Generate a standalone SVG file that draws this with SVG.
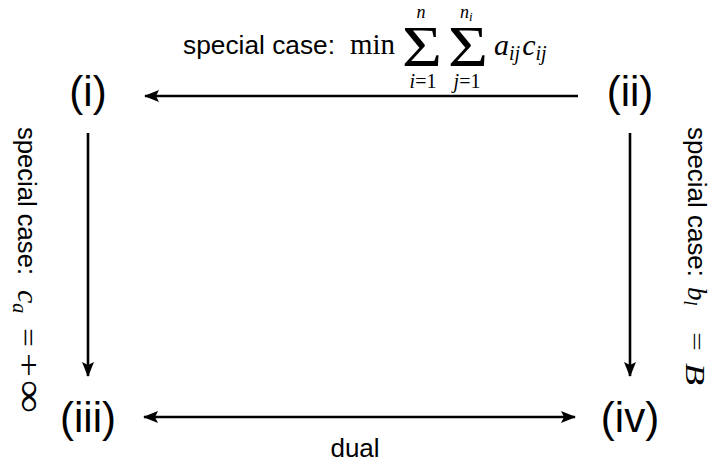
<svg xmlns="http://www.w3.org/2000/svg" width="712" height="465" viewBox="0 0 712 465">
<style>
.node{font-family:"Liberation Sans",Arial,sans-serif;font-size:42px;fill:#000;text-anchor:middle}
.lbl{font-family:"Liberation Sans",Arial,sans-serif;font-size:26px;fill:#000}
.m{font-family:"Liberation Serif","Times New Roman",serif;fill:#000}
.mi{font-family:"Liberation Serif","Times New Roman",serif;font-style:italic;fill:#000}
.conn{stroke:#000;stroke-width:2.6;fill:none}
</style>
<defs>
<marker id="ah" viewBox="0 0 15 12" refX="14" refY="6" markerWidth="15" markerHeight="12" markerUnits="userSpaceOnUse" orient="auto-start-reverse">
<path d="M0,0 L15,6 L0,12 L3,6 z" fill="#000"/>
</marker>
</defs>
<rect width="712" height="465" fill="#fff"/>
<g id="connectors">
<path class="conn" d="M578,96 L145,96" marker-end="url(#ah)"/>
<path class="conn" d="M88,133 L88,376" marker-end="url(#ah)"/>
<path class="conn" d="M630,133 L630,376" marker-end="url(#ah)"/>
<path class="conn" d="M144,417 L575,417" marker-start="url(#ah)" marker-end="url(#ah)"/>
</g>
<g id="node-i"><text class="node" x="88" y="106">(i)</text></g>
<g id="node-ii"><text class="node" x="630" y="106">(ii)</text></g>
<g id="node-iii"><text class="node" x="88" y="432">(iii)</text></g>
<g id="node-iv"><text class="node" x="630" y="432">(iv)</text></g>
<g id="label-top">
<text class="lbl" x="183" y="54" textLength="152" lengthAdjust="spacingAndGlyphs">special case:</text>
<text class="m" x="350" y="54" font-size="29" textLength="45" lengthAdjust="spacingAndGlyphs">min</text>
<text class="m" x="402" y="66" font-size="58" textLength="40" lengthAdjust="spacingAndGlyphs">Σ</text>
<text class="m" x="448" y="66" font-size="58" textLength="40" lengthAdjust="spacingAndGlyphs">Σ</text>
<text class="mi" x="421" y="18" font-size="18" text-anchor="middle">n</text>
<text class="mi" x="460" y="18" font-size="18">n<tspan font-size="13" dy="3">i</tspan></text>
<text class="m" x="423" y="88" font-size="20" text-anchor="middle"><tspan class="mi">i</tspan>=1</text>
<text class="m" x="467" y="88" font-size="20" text-anchor="middle"><tspan class="mi">j</tspan>=1</text>
<text class="mi" x="494" y="55" font-size="30">a<tspan font-size="20" dy="5">ij</tspan><tspan dy="-5" dx="2">c</tspan><tspan font-size="20" dy="5">ij</tspan></text>
</g>
<g id="label-left" transform="translate(18,127) rotate(90)">
<text class="lbl" x="0" y="0" textLength="148" lengthAdjust="spacingAndGlyphs">special case:</text>
<text class="mi" x="163" y="0" font-size="30">c<tspan font-size="20" dy="5">a</tspan></text>
<text class="m" x="201" y="0" font-size="30" textLength="19" lengthAdjust="spacingAndGlyphs">=</text>
<text class="m" x="226" y="0" font-size="31" textLength="24" lengthAdjust="spacingAndGlyphs">+</text>
<text class="m" x="253" y="0" font-size="38" textLength="33" lengthAdjust="spacingAndGlyphs">∞</text>
</g>
<g id="label-right" transform="translate(688,127) rotate(90)">
<text class="lbl" x="0" y="0" textLength="150" lengthAdjust="spacingAndGlyphs">special case:</text>
<text class="mi" x="160" y="0" font-size="27">b<tspan font-size="18" dy="4">l</tspan></text>
<text class="m" x="205" y="-1" font-size="24" textLength="19" lengthAdjust="spacingAndGlyphs">=</text>
<text class="mi" x="236" y="2" font-size="27" textLength="22" lengthAdjust="spacingAndGlyphs">B</text>
</g>
<g id="label-bottom"><text class="lbl" x="355" y="457" text-anchor="middle">dual</text></g>
</svg>
